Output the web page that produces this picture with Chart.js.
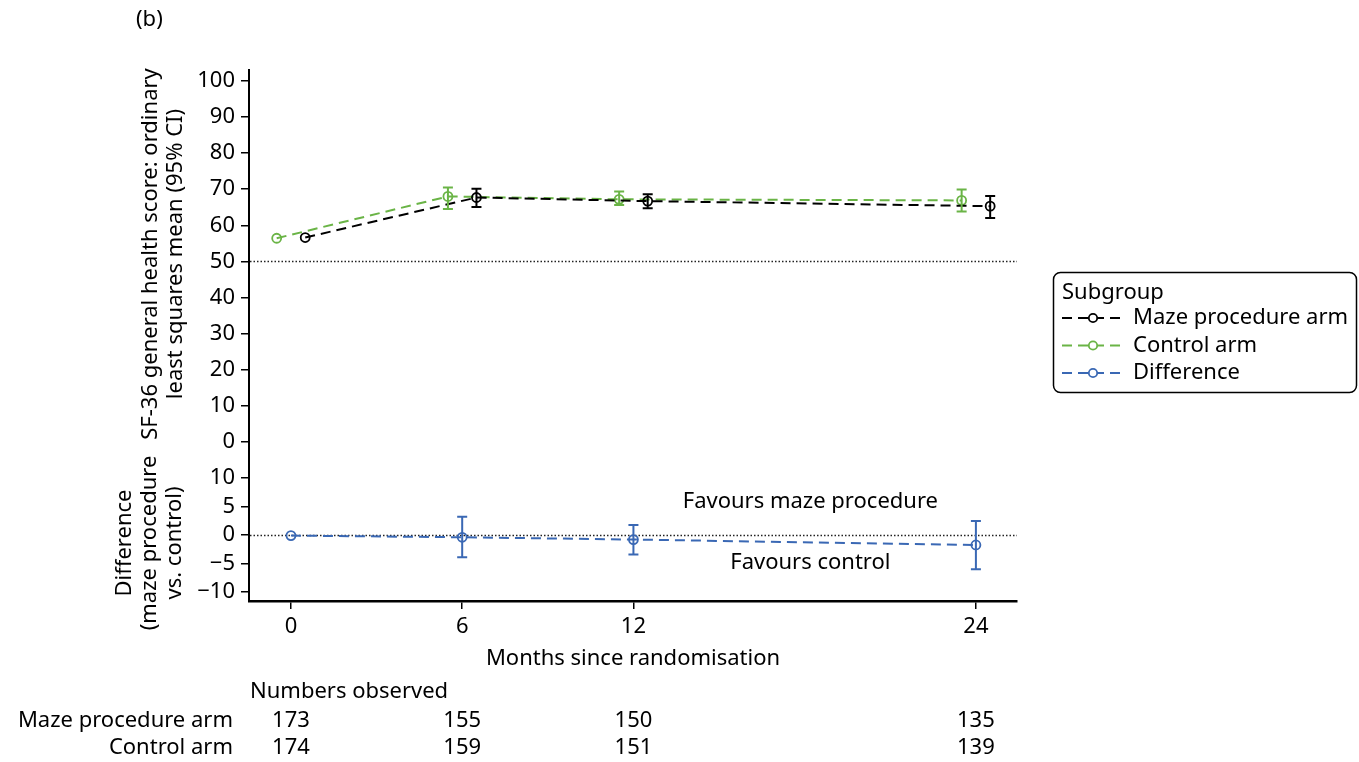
<!DOCTYPE html>
<html lang="en">
<head>
<meta charset="utf-8">
<title>SF-36 general health score</title>
<script src="https://cdn.jsdelivr.net/npm/chart.js"></script>
<style>
    body { margin: 0; background: #fff; }
    #wrap { position: relative; width: 1359px; height: 762px; }
    canvas { position: absolute; left: 0; }
    #topChart { top: 0; }
    #bottomChart { top: 440px; }
</style>
</head>
<body>
<div id="wrap">
    <canvas id="topChart" width="1359" height="463"></canvas>
    <canvas id="bottomChart" width="1359" height="322"></canvas>
</div>

<script>
    // months since randomisation
    var months = [0, 6, 12, 24];

    // maze procedure arm (LS mean with 95% CI)
    var mazeMean = [56.6, 67.7, 66.7, 65.3];
    var mazeLo = [null, 65.1, 64.7, 62.0];
    var mazeHi = [null, 70.1, 68.6, 68.1];

    // control arm
    var controlMean = [56.4, 68.0, 67.2, 66.9];
    var controlLo = [null, 64.5, 65.6, 63.8];
    var controlHi = [null, 70.5, 69.4, 69.9];

    // difference (maze - control)
    var diffMean = [-0.1, -0.4, -0.8, -1.75];
    var diffLo = [null, -3.9, -3.4, -6.0];
    var diffHi = [null, 3.2, 1.75, 2.45];

    // numbers observed
    var mazeN = [173, 155, 150, 135];
    var controlN = [174, 159, 151, 139];

    // tick labels
    var topTicks = [0, 10, 20, 30, 40, 50, 60, 70, 80, 90, 100];
    var bottomTicks = [-10, -5, 0, 5, 10];
    var xTicks = [0, 6, 12, 24];

    var seriesNames = ["Maze procedure arm", "Control arm", "Difference"];
    var seriesColors = ["#000000", "#6ab446", "#3a68b4"];

    var FONT = "'Noto Sans', 'DejaVu Sans', sans-serif";
    var FS = 22;
    var dodge = 0.5;

    function pts(xs, ys, shift) {
        return xs.map(function(x, i) { return {x: x + shift, y: ys[i]}; });
    }
    function minus(v) { return String(v).replace("-", "\u2212"); }

    var errorBars = {
        id: "errorBars",
        afterDatasetsDraw: function(chart) {
            var ctx = chart.ctx, ys = chart.scales.y;
            chart.data.datasets.forEach(function(ds, i) {
                var meta = chart.getDatasetMeta(i);
                ds.lo.forEach(function(lo, j) {
                    if (lo == null) return;
                    var px = meta.data[j].x;
                    var y1 = ys.getPixelForValue(lo), y2 = ys.getPixelForValue(ds.hi[j]);
                    ctx.save();
                    ctx.strokeStyle = ds.borderColor;
                    ctx.lineWidth = 2;
                    ctx.beginPath();
                    ctx.moveTo(px, y1); ctx.lineTo(px, y2);
                    ctx.moveTo(px - 5, y1); ctx.lineTo(px + 5, y1);
                    ctx.moveTo(px - 5, y2); ctx.lineTo(px + 5, y2);
                    ctx.stroke();
                    ctx.restore();
                });
            });
        }
    };

    var refLine = {
        id: "refLine",
        beforeDatasetsDraw: function(chart, args, opts) {
            var ctx = chart.ctx, a = chart.chartArea;
            var py = Math.round(chart.scales.y.getPixelForValue(opts.value)) + 0.5;
            ctx.save();
            ctx.setLineDash([1.5, 2]);
            ctx.lineWidth = 1.5;
            ctx.strokeStyle = "#222";
            ctx.beginPath();
            ctx.moveTo(a.left + 1, py);
            ctx.lineTo(a.right, py);
            ctx.stroke();
            ctx.restore();
        }
    };

    // rotated y axis title, lines stacked left to right
    var sideTitle = {
        id: "sideTitle",
        afterDraw: function(chart, args, opts) {
            var ctx = chart.ctx;
            ctx.save();
            ctx.font = FS + "px " + FONT;
            ctx.fillStyle = "#000";
            ctx.textAlign = "center";
            ctx.textBaseline = "middle";
            opts.lines.forEach(function(t, i) {
                ctx.save();
                ctx.translate(opts.x + i * 25, opts.y);
                ctx.rotate(-Math.PI / 2);
                ctx.fillText(t, 0, 0);
                ctx.restore();
            });
            ctx.restore();
        }
    };

    // legend + panel label drawn on the upper chart
    var legendBox = {
        id: "legendBox",
        afterDraw: function(chart) {
            var ctx = chart.ctx;
            ctx.save();
            ctx.font = FS + "px " + FONT;
            ctx.fillStyle = "#000";
            ctx.textBaseline = "middle";
            ctx.fillText("(b)", 136, 20);

            ctx.lineWidth = 1.5;
            ctx.strokeStyle = "#000";
            ctx.beginPath();
            ctx.roundRect(1053.5, 272.5, 303, 120, 7);
            ctx.stroke();
            ctx.fillText("Subgroup", 1062, 293);
            seriesNames.forEach(function(name, i) {
                var y = 318 + i * 27.5;
                ctx.strokeStyle = seriesColors[i];
                ctx.lineWidth = 2;
                ctx.setLineDash([10, 6]);
                ctx.beginPath();
                ctx.moveTo(1062, y); ctx.lineTo(1126, y);
                ctx.stroke();
                ctx.setLineDash([]);
                ctx.fillStyle = "#fff";
                ctx.beginPath();
                ctx.arc(1093, y, 4.2, 0, Math.PI * 2);
                ctx.fill();
                ctx.lineWidth = 1.8;
                ctx.stroke();
                ctx.fillStyle = "#000";
                ctx.fillText(name, 1133, y);
            });
            ctx.restore();
        }
    };

    // annotations and numbers table drawn on the lower chart
    var extraText = {
        id: "extraText",
        afterDraw: function(chart) {
            var ctx = chart.ctx, xs = chart.scales.x, ys = chart.scales.y;
            ctx.save();
            ctx.font = FS + "px " + FONT;
            ctx.fillStyle = "#000";
            ctx.textBaseline = "middle";
            ctx.textAlign = "center";
            ctx.fillText("Favours maze procedure", xs.getPixelForValue(18.2), ys.getPixelForValue(5.8));
            ctx.fillText("Favours control", xs.getPixelForValue(18.2), ys.getPixelForValue(-4.9));

            ctx.textAlign = "left";
            ctx.fillText("Numbers observed", 250, 252);
            ctx.textAlign = "right";
            ctx.fillText(seriesNames[0], 233, 281);
            ctx.fillText(seriesNames[1], 233, 308);
            ctx.textAlign = "center";
            months.forEach(function(m, i) {
                var px = xs.getPixelForValue(m);
                ctx.fillText(mazeN[i], px, 281);
                ctx.fillText(controlN[i], px, 308);
            });
            ctx.restore();
        }
    };

    function lineSet(label, xs, ys, lo, hi, color, shift) {
        return {
            label: label,
            data: pts(xs, ys, shift),
            lo: lo,
            hi: hi,
            borderColor: color,
            borderWidth: 2,
            borderDash: [10, 6],
            pointRadius: 4.5,
            pointBorderWidth: 1.8,
            pointBackgroundColor: "rgba(255,255,255,0)",
            pointBorderColor: color,
            tension: 0,
            fill: false
        };
    }

    function yAxis(ticks, min, max) {
        return {
            type: "linear",
            min: min,
            max: max,
            afterBuildTicks: function(s) { s.ticks = ticks.map(function(v) { return {value: v}; }); },
            afterFit: function(s) { s.width = 249; s.paddingTop = 0; s.paddingBottom = 0; },
            border: {display: true, color: "#000", width: 2},
            grid: {drawOnChartArea: false, drawTicks: true, tickLength: 8, color: "#000", lineWidth: 1.5},
            ticks: {
                color: "#000",
                padding: 6,
                font: {family: FONT, size: FS},
                callback: function(v) { return minus(v); }
            }
        };
    }

    var xMin = -1.47, xMax = 25.44;

    new Chart(document.getElementById("topChart"), {
        type: "line",
        data: {
            datasets: [
                lineSet(seriesNames[0], months, mazeMean, mazeLo, mazeHi, seriesColors[0], dodge),
                lineSet(seriesNames[1], months, controlMean, controlLo, controlHi, seriesColors[1], -dodge)
            ]
        },
        options: {
            responsive: false,
            animation: false,
            layout: {padding: {top: 70, left: 0, right: 342, bottom: 0}},
            plugins: {
                legend: {display: false},
                tooltip: {enabled: false},
                refLine: {value: 50},
                sideTitle: {lines: ["SF-36 general health score: ordinary", "least squares mean (95% CI)"], x: 151, y: 254}
            },
            scales: {
                x: {type: "linear", min: xMin, max: xMax, display: false},
                y: yAxis(topTicks, -4.17, 103.06)
            }
        },
        plugins: [refLine, errorBars, legendBox, sideTitle]
    });

    new Chart(document.getElementById("bottomChart"), {
        type: "line",
        data: {
            datasets: [
                lineSet(seriesNames[2], months, diffMean, diffLo, diffHi, seriesColors[2], 0)
            ]
        },
        options: {
            responsive: false,
            animation: false,
            layout: {padding: {top: 16, left: 0, right: 342, bottom: 0}},
            plugins: {
                legend: {display: false},
                tooltip: {enabled: false},
                refLine: {value: 0},
                sideTitle: {lines: ["Difference", "(maze procedure", "vs. control)"], x: 125, y: 103}
            },
            scales: {
                x: {
                    type: "linear",
                    min: xMin,
                    max: xMax,
                    afterBuildTicks: function(s) { s.ticks = xTicks.map(function(v) { return {value: v}; }); },
                    afterFit: function(s) { s.height = 161; s.paddingLeft = 0; s.paddingRight = 0; },
                    border: {display: true, color: "#000", width: 2.5},
                    grid: {drawOnChartArea: false, drawTicks: true, tickLength: 8, color: "#000", lineWidth: 1.5},
                    ticks: {color: "#000", padding: 5, maxRotation: 0, font: {family: FONT, size: FS}},
                    title: {
                        display: true,
                        text: "Months since randomisation",
                        color: "#000",
                        font: {family: FONT, size: FS},
                        padding: {top: 0, bottom: 90}
                    }
                },
                y: yAxis(bottomTicks, -11.58, 13.86)
            }
        },
        plugins: [refLine, errorBars, extraText, sideTitle]
    });
</script>
</body>
</html>
